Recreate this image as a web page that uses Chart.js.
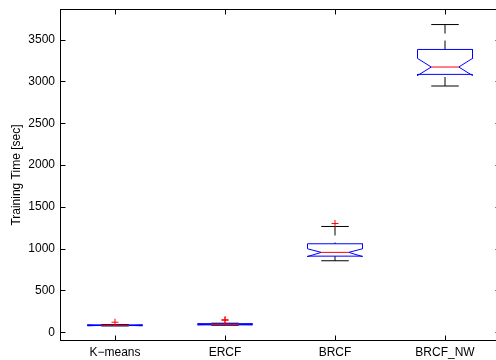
<!DOCTYPE html>
<html>
<head>
<meta charset="utf-8">
<script src="https://cdn.jsdelivr.net/npm/chart.js@4"></script>
<style>
  html, body { margin: 0; padding: 0; overflow: hidden; background: #fff; }
  /* axes box runs a few pixels past the right edge of the window, as in the original */
  #wrap { width: 504px; height: 360px; }
</style>
</head>
<body>
<div id="wrap"><canvas id="box-chart"></canvas></div>
<script>
const CATEGORIES = ["K\u2212means", "ERCF", "BRCF", "BRCF_NW"];

// box statistics per category (seconds)
const WHISKER_LO = [75, 84, 855, 2945];
const Q1 = [80, 88, 910, 3084];
const NOTCH_LO = [77, 90, 905, 3070];
const MEDIAN = [83, 95, 955, 3172];
const NOTCH_HI = [89, 100, 998, 3275];
const Q3 = [86, 102, 1058, 3382];
const WHISKER_HI = [92, 108, 1265, 3680];
const OUTLIERS = [[120], [143, 150], [1300], []];

const Y_TICKS = [0, 500, 1000, 1500, 2000, 2500, 3000, 3500];

const BOX_HALF = 0.25;
const TICK_LEN = 5;

Chart.defaults.font.family = "'Liberation Sans', Arial, sans-serif";
Chart.defaults.font.size = 12;
Chart.defaults.color = "#000";

const chartEl = document.getElementById("box-chart");

const line = (points, color, order, dash) => ({
  data: points,
  showLine: true,
  borderColor: color,
  borderWidth: 1,
  borderDash: dash || [],
  pointRadius: 0,
  pointHoverRadius: 0,
  fill: false,
  tension: 0,
  order: order,
});

const buildDatasets = () => {
  const sets = [];
  CATEGORIES.forEach((_, i) => {
    const c = i + 1;
    const w = BOX_HALF;
    const h = BOX_HALF / 2;
    // dashed whiskers, drawn from cap towards box
    sets.push(line([{ x: c, y: WHISKER_HI[i] }, { x: c, y: Q3[i] }], "#000", 4, [9, 7]));
    sets.push(line([{ x: c, y: WHISKER_LO[i] }, { x: c, y: Q1[i] }], "#000", 4, [9, 7]));
    // caps
    sets.push(line([{ x: c - h, y: WHISKER_HI[i] }, { x: c + h, y: WHISKER_HI[i] }], "#000", 3));
    sets.push(line([{ x: c - h, y: WHISKER_LO[i] }, { x: c + h, y: WHISKER_LO[i] }], "#000", 3));
    // notched box
    sets.push(line([
      { x: c - w, y: Q3[i] },
      { x: c + w, y: Q3[i] },
      { x: c + w, y: NOTCH_HI[i] },
      { x: c + h, y: MEDIAN[i] },
      { x: c + w, y: NOTCH_LO[i] },
      { x: c + w, y: Q1[i] },
      { x: c - w, y: Q1[i] },
      { x: c - w, y: NOTCH_LO[i] },
      { x: c - h, y: MEDIAN[i] },
      { x: c - w, y: NOTCH_HI[i] },
      { x: c - w, y: Q3[i] },
    ], "#0000ff", 2));
    // median
    sets.push(line([{ x: c - h, y: MEDIAN[i] }, { x: c + h, y: MEDIAN[i] }], "#ff0000", 1));
    // outliers
    sets.push({
      data: OUTLIERS[i].map((v) => ({ x: c, y: v })),
      showLine: false,
      pointStyle: "cross",
      pointRadius: 3.5,
      pointHoverRadius: 3.5,
      pointBorderColor: "#ff0000",
      pointBorderWidth: 1,
      order: 0,
    });
  });
  return sets;
};

// MATLAB-like box frame with inward tick marks
const framePlugin = {
  id: "frame",
  afterDatasetsDraw(chart) {
    const { ctx, chartArea: a, scales } = chart;
    const l = Math.floor(a.left) + 0.5;
    const r = Math.floor(a.right) + 0.5;
    const t = Math.floor(a.top) + 0.5;
    const b = Math.floor(a.bottom) + 0.5;
    ctx.save();
    ctx.strokeStyle = "#000";
    ctx.lineWidth = 1;
    ctx.setLineDash([]);
    ctx.strokeRect(l, t, r - l, b - t);
    ctx.beginPath();
    scales.y.ticks.forEach((tk) => {
      const y = Math.round(scales.y.getPixelForValue(tk.value)) + 0.5;
      ctx.moveTo(l, y);
      ctx.lineTo(l + TICK_LEN, y);
      ctx.moveTo(r, y);
      ctx.lineTo(r - TICK_LEN, y);
    });
    scales.x.ticks.forEach((tk) => {
      const x = Math.round(scales.x.getPixelForValue(tk.value)) + 0.5;
      ctx.moveTo(x, b);
      ctx.lineTo(x, b - TICK_LEN);
      ctx.moveTo(x, t);
      ctx.lineTo(x, t + TICK_LEN);
    });
    ctx.stroke();
    ctx.restore();
  },
};

const noScalePadding = (axis) => {
  axis.paddingTop = 0;
  axis.paddingBottom = 0;
  axis.paddingLeft = 0;
  axis.paddingRight = 0;
};

const renderChart = () => {
  new Chart(chartEl, {
    type: "scatter",
    data: { datasets: buildDatasets() },
    options: {
      responsive: true,
      maintainAspectRatio: false,
      animation: false,
      events: [],
      layout: { autoPadding: false, padding: { top: 9.5, right: 4, bottom: 0, left: 0 } },
      plugins: {
        legend: { display: false },
        tooltip: { enabled: false },
      },
      scales: {
        x: {
          type: "linear",
          min: 0.5,
          max: 4.5,
          afterBuildTicks: (axis) => {
            axis.ticks = CATEGORIES.map((_, i) => ({ value: i + 1 }));
          },
          afterFit: (axis) => {
            axis.height = 19.4;
            noScalePadding(axis);
          },
          ticks: {
            callback: (v) => CATEGORIES[v - 1],
            padding: 5,
            maxRotation: 0,
            autoSkip: false,
          },
          grid: { display: false, drawTicks: false },
          border: { display: false },
        },
        y: {
          type: "linear",
          min: -100,
          max: 3860,
          afterBuildTicks: (axis) => {
            axis.ticks = Y_TICKS.map((v) => ({ value: v }));
          },
          afterFit: (axis) => {
            axis.width = 60;
            noScalePadding(axis);
          },
          ticks: { padding: 5, callback: (v) => String(v) },
          grid: { display: false, drawTicks: false },
          border: { display: false },
          title: {
            display: true,
            text: "Training Time [sec]",
            padding: { top: 9, bottom: 0 },
          },
        },
      },
    },
    plugins: [framePlugin],
  });
};

const init = () => {
  renderChart();
};

init();
</script>
</body>
</html>
